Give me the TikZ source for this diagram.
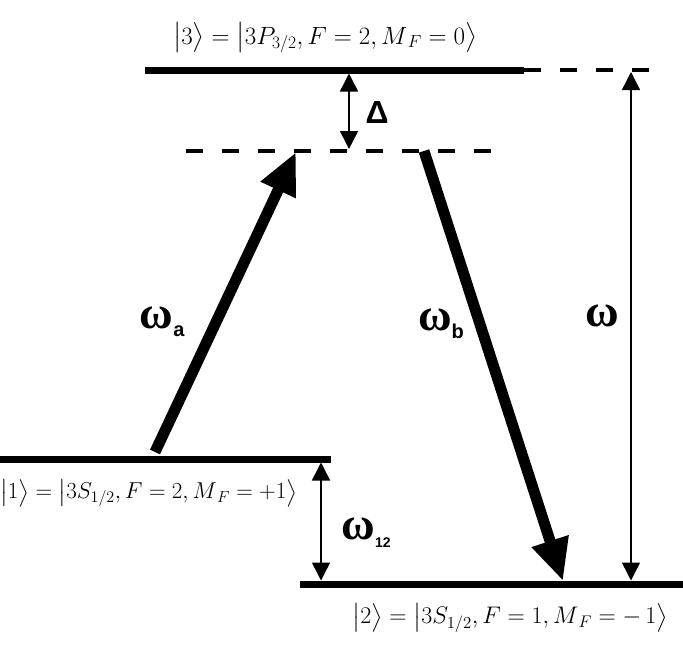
\documentclass[tikz,border=0pt]{standalone}
\usepackage{fix-cm}
\usepackage{amsmath,amssymb}
\usepackage{fontspec}
\setsansfont{Liberation Sans}
\newfontfamily\omegafont{Liberation Serif}
\usetikzlibrary{positioning,arrows.meta}
\tikzset{level line/.style={line width=7pt},
  virtual line/.style={line width=4pt,dash pattern=on 17pt off 19pt},
  gap arrow/.style={line width=1.5pt,{Triangle[length=18pt,width=18pt]}-{Triangle[length=18pt,width=18pt]}},
  laser arrow/.style={line width=11pt,-{Triangle[length=42pt,width=36pt]}},
  state label/.style={inner sep=0pt},
  freq label/.style={inner sep=0pt}}
\newcommand{\bigomega}{{\omegafont\bfseries\fontsize{46}{46}\selectfont ω}}
\newcommand{\freqlab}[2]{\bigomega\raisebox{-8pt}{\sffamily\bfseries\fontsize{#2}{#2}\selectfont #1}}

\begin{document}
\begin{tikzpicture}[x=1pt,y=-1pt]
  \useasboundingbox (0,0) rectangle (683,651);
  \coordinate (L3w) at (145,70);
  \coordinate (L3e) at (524,70);
  \coordinate (L3d) at (652,70);
  \coordinate (Vw) at (186,151);
  \coordinate (Ve) at (496,151);
  \coordinate (L1w) at (0,459);
  \coordinate (L1e) at (331,459);
  \coordinate (L2w) at (300,584);
  \coordinate (L2e) at (683,584);
  \draw[level line] (L3w) -- (L3e);
  \draw[virtual line] (L3e) -- (L3d);
  \draw[virtual line] (Vw) -- (Ve);
  \draw[level line] (L1w) -- (L1e);
  \draw[level line] (L2w) -- (L2e);

  \coordinate (d0) at (349,73.5);
  \coordinate (d1) at (349,149);
  \coordinate (s0) at (321,462.5);
  \coordinate (s1) at (321,580.5);
  \coordinate (w0) at (631,72);
  \coordinate (w1) at (631,580.5);
  \draw[gap arrow] (d0) -- (d1);
  \draw[gap arrow] (s0) -- (s1);
  \draw[gap arrow] (w0) -- (w1);

  \coordinate (a0) at (155,452);
  \coordinate (a1) at (296,152);
  \coordinate (b0) at (424,151);
  \coordinate (b1) at (563,581);
  \draw[laser arrow] (a0) -- (a1);
  \draw[laser arrow] (b0) -- (b1);

  \node[state label,font=\fontsize{25}{28}\selectfont] (lab3) at (325,38) {$\bigl|3\bigr\rangle = \bigl|3P_{3/2}, F = 2, M_{\,F} = 0\bigr\rangle$};
  \node[state label,font=\fontsize{23}{26}\selectfont,anchor=west] (lab1) at (0,493) {$\bigl|1\bigr\rangle = \bigl|3S_{1/2}, F = 2, M_{\,F} = +1\bigr\rangle$};
  \node[state label,font=\fontsize{24}{27}\selectfont] (lab2) at (510,618) {$\bigl|2\bigr\rangle = \bigl|3S_{1/2}, F = 1, M_{\,F} = -\,1\bigr\rangle$};
  \node[freq label] (delta) at (377,112) {\sffamily\bfseries\fontsize{32}{32}\selectfont Δ};
  \node[freq label] (wa) at (162,322) {\freqlab{a}{20}};
  \node[freq label] (wb) at (441,324) {\freqlab{b}{20}};
  \node[freq label] (wab) at (602,316) {\bigomega};
  \node[freq label] (w12) at (366,533) {\freqlab{12}{14}};
\end{tikzpicture}
\end{document}
